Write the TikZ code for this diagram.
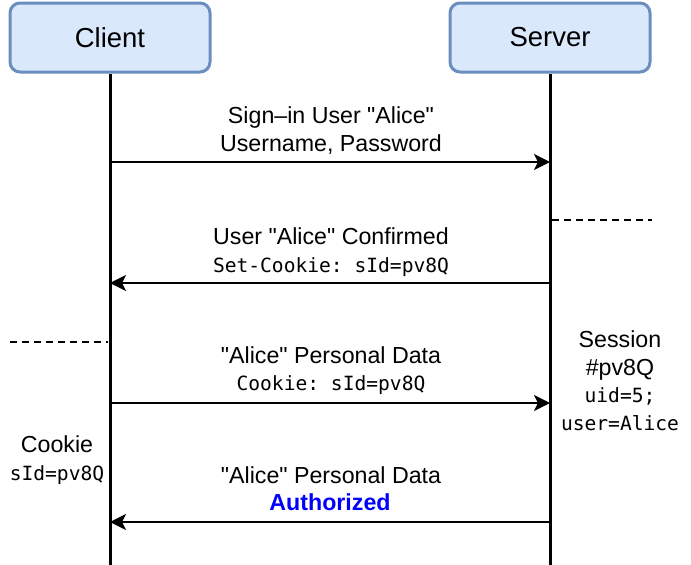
\documentclass[tikz,border=0pt]{standalone}
\usepackage{fontspec}
\setmainfont{Liberation Sans}
\setmonofont{DejaVu Sans Mono}
\usetikzlibrary{arrows.meta}
\definecolor{actfill}{HTML}{DAE8FC}
\definecolor{actdraw}{HTML}{6C8EBF}
\definecolor{authblue}{HTML}{0000FF}
\newcommand{\qq}{\textquotedbl}
\tikzset{
  actor/.style={draw=actdraw, fill=actfill, line width=3pt, rounded corners=10pt,
    minimum width=200pt, minimum height=69pt, inner sep=0pt, font=\fontsize{27.5}{32}\selectfont},
  lifeline/.style={line width=3pt},
  msg/.style={line width=1.8pt, -{Stealth[length=16pt,width=16pt,inset=4pt]}},
  sep/.style={line width=1.8pt, dash pattern=on 7pt off 5pt},
  lbl/.style={anchor=base, inner sep=0pt, font=\fontsize{23.2}{27}\selectfont},
  mono/.style={anchor=base, inner sep=0pt, font=\fontsize{19.6}{24}\selectfont\ttfamily},
}
\begin{document}
\begin{tikzpicture}[x=1pt,y=-1pt]
\useasboundingbox (0,0) rectangle (691,565);
% actors
\node[actor] (client) at (110,37.5) {Client};
\node[actor] (server) at (550,37.5) {Server};
\coordinate (cend) at (110,565);
\coordinate (send) at (550,565);
\draw[lifeline] (client.south) -- (cend);
\draw[lifeline] (server.south) -- (send);
% message anchor points
\coordinate (c1) at (110,162); \coordinate (s1) at (550,162);
\coordinate (c2) at (110,283); \coordinate (s2) at (550,283);
\coordinate (c3) at (110,403); \coordinate (s3) at (550,403);
\coordinate (c4) at (110,522); \coordinate (s4) at (550,522);
\draw[msg] (c1) -- (s1);
\draw[msg] (s2) -- (c2);
\draw[msg] (c3) -- (s3);
\draw[msg] (s4) -- (c4);
% separators
\coordinate (d1a) at (552,220); \coordinate (d1b) at (652,220);
\coordinate (d2a) at (10,342); \coordinate (d2b) at (108,342);
\draw[sep] (d1a) -- (d1b);
\draw[sep] (d2a) -- (d2b);
% labels
\node[lbl] (m1a) at (331,123) {Sign{\textendash}in User \qq Alice\qq};
\node[lbl] (m1b) at (331,151) {Username, Password};
\node[lbl] (m2a) at (331,244) {User \qq Alice\qq{} Confirmed};
\node[mono] (m2b) at (331,272) {Set-Cookie: sId=pv8Q};
\node[lbl] (m3a) at (331,363) {\qq Alice\qq{} Personal Data};
\node[mono] (m3b) at (331,390) {Cookie: sId=pv8Q};
\node[lbl] (m4a) at (331,483) {\qq Alice\qq{} Personal Data};
\node[lbl, text=authblue, font=\fontsize{23.2}{27}\selectfont\bfseries] (m4b) at (330,510) {Authorized};
% notes
\node[lbl] (ses1) at (620,347) {Session};
\node[lbl] (ses2) at (620,375) {\#pv8Q};
\node[mono] (ses3) at (620,402) {uid=5;};
\node[mono] (ses4) at (620,430) {user=Alice};
\node[lbl] (ck1) at (57,452) {Cookie};
\node[mono] (ck2) at (57,480) {sId=pv8Q};
\end{tikzpicture}
\end{document}
